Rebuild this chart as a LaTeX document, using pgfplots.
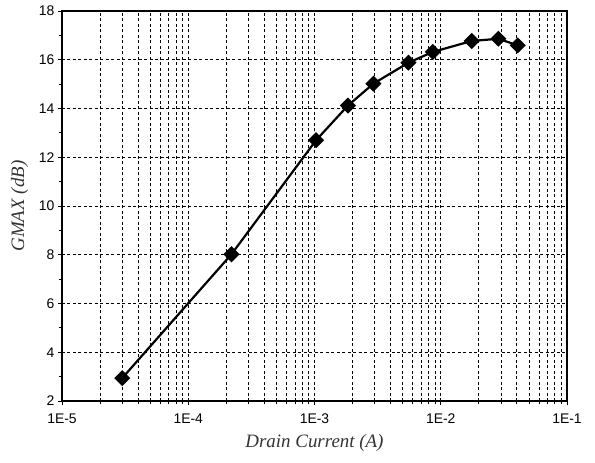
\documentclass[border=0pt]{standalone}
\usepackage{fontspec}
\setmainfont{Liberation Sans}
\newfontfamily\tnr{Liberation Serif}
\usepackage{pgfplots}
\pgfplotsset{compat=1.18}

\begin{document}
\begin{tikzpicture}
  \begin{axis}[
    name=ax,
    scale only axis,
    width=505bp, height=390bp,
    xmode=log,
    xmin=1e-5, xmax=1e-1,
    ymin=2, ymax=18,
    xtick={1e-5,1e-4,1e-3,1e-2,1e-1},
    xticklabels={1E-5,1E-4,1E-3,1E-2,1E-1},
    ytick={2,4,...,18},
    minor ytick={3,5,...,17},
    xtick pos=left, ytick pos=left,
    tick align=outside,
    major tick length=4bp, minor tick length=3bp,
    xmajorgrids, xminorgrids, ymajorgrids,
    grid style={black, line width=0.7bp, dash pattern=on 3bp off 2.5bp},
    minor grid style={black, line width=0.7bp, dash pattern=on 3bp off 2.5bp},
    axis line style={line width=1.1bp},
    every tick/.style={black, line width=0.8bp},
    /pgf/number format/assume math mode=true,
    tick label style={font=\fontsize{14}{16}\selectfont},
    xticklabel style={yshift=-5bp},
    xlabel={\tnr\itshape Drain Current (A)},
    ylabel={\tnr\itshape GMAX (dB)},
    label style={font=\fontsize{19}{22}\selectfont, text=black!80},
    xlabel style={yshift=-4bp},
    ylabel style={yshift=4bp},
  ]
    \addplot[black, line width=2.2bp, mark=square*,
             mark size=4.6bp, mark options={solid, fill=black, rotate=45}]
      coordinates {
        (3.0e-5, 2.94)
        (2.2e-4, 8.02)
        (1.03e-3, 12.70)
        (1.84e-3, 14.12)
        (2.93e-3, 15.02)
        (5.55e-3, 15.88)
        (8.65e-3, 16.32)
        (1.76e-2, 16.77)
        (2.86e-2, 16.86)
        (4.07e-2, 16.59)
      };
  \end{axis}
  \pgfresetboundingbox
  \path ([xshift=-62bp,yshift=-62bp]ax.south west)
        rectangle ([xshift=28bp,yshift=11bp]ax.north east);
\end{tikzpicture}
\end{document}
